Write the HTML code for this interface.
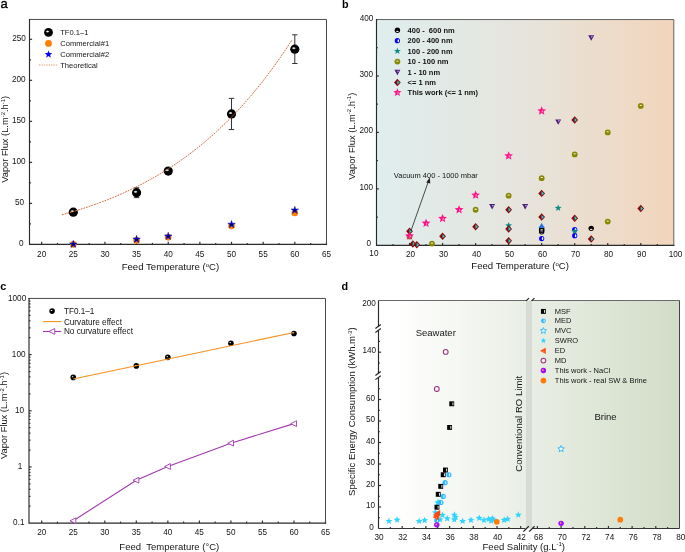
<!DOCTYPE html>
<html><head><meta charset="utf-8"><style>
html,body{margin:0;padding:0;background:#fff;}
body{width:685px;height:552px;position:relative;overflow:hidden;font-family:"Liberation Sans",sans-serif;}
</style></head><body>
<svg width="685" height="552" viewBox="0 0 685 552" style="position:absolute;left:0;top:0;will-change:transform">
<defs>
<radialGradient id="sph" cx="0.5" cy="0.5" r="0.5" fx="0.36" fy="0.36">
<stop offset="0" stop-color="#ffffff"/><stop offset="0.15" stop-color="#d8d8d8"/><stop offset="0.32" stop-color="#666"/><stop offset="0.52" stop-color="#0a0a0a"/><stop offset="1" stop-color="#000"/>
</radialGradient>
<radialGradient id="hl" cx="0.5" cy="0.5" r="0.5">
<stop offset="0" stop-color="#fff" stop-opacity="1"/><stop offset="0.45" stop-color="#ddd" stop-opacity="0.85"/><stop offset="1" stop-color="#888" stop-opacity="0"/>
</radialGradient>
<radialGradient id="sphp" cx="0.5" cy="0.5" r="0.5" fx="0.36" fy="0.38">
<stop offset="0" stop-color="#ff8c50"/><stop offset="0.22" stop-color="#f07090"/><stop offset="0.45" stop-color="#a818ff"/><stop offset="1" stop-color="#9400ee"/>
</radialGradient>
<linearGradient id="gb" x1="0" y1="0" x2="1" y2="0">
<stop offset="0" stop-color="#dfeeee"/><stop offset="0.5" stop-color="#e6e4dc"/><stop offset="1" stop-color="#f2d5bc"/>
</linearGradient>
<linearGradient id="gdl" x1="0" y1="0" x2="1" y2="0">
<stop offset="0" stop-color="#ffffff"/><stop offset="0.1" stop-color="#ffffff"/><stop offset="1" stop-color="#eaefe5"/>
</linearGradient>
<linearGradient id="gdr" x1="0" y1="0" x2="1" y2="0">
<stop offset="0" stop-color="#e9eee4"/><stop offset="1" stop-color="#d2ddc8"/>
</linearGradient>
</defs>
<g font-family='"Liberation Sans", sans-serif'>
<text x="0.4" y="7.9" font-size="13" text-anchor="start" font-weight="normal" fill="#000" stroke="#000" stroke-width="0.35">a</text>
<line x1="41.66" y1="244.4" x2="41.66" y2="241.8" stroke="#333" stroke-width="1.2" />
<text x="41.66" y="256.6" font-size="8.2" text-anchor="middle" font-weight="normal" fill="#141414" >20</text>
<line x1="73.3" y1="244.4" x2="73.3" y2="241.8" stroke="#333" stroke-width="1.2" />
<text x="73.3" y="256.6" font-size="8.2" text-anchor="middle" font-weight="normal" fill="#141414" >25</text>
<line x1="104.94" y1="244.4" x2="104.94" y2="241.8" stroke="#333" stroke-width="1.2" />
<text x="104.94" y="256.6" font-size="8.2" text-anchor="middle" font-weight="normal" fill="#141414" >30</text>
<line x1="136.59" y1="244.4" x2="136.59" y2="241.8" stroke="#333" stroke-width="1.2" />
<text x="136.59" y="256.6" font-size="8.2" text-anchor="middle" font-weight="normal" fill="#141414" >35</text>
<line x1="168.24" y1="244.4" x2="168.24" y2="241.8" stroke="#333" stroke-width="1.2" />
<text x="168.24" y="256.6" font-size="8.2" text-anchor="middle" font-weight="normal" fill="#141414" >40</text>
<line x1="199.88" y1="244.4" x2="199.88" y2="241.8" stroke="#333" stroke-width="1.2" />
<text x="199.88" y="256.6" font-size="8.2" text-anchor="middle" font-weight="normal" fill="#141414" >45</text>
<line x1="231.52" y1="244.4" x2="231.52" y2="241.8" stroke="#333" stroke-width="1.2" />
<text x="231.52" y="256.6" font-size="8.2" text-anchor="middle" font-weight="normal" fill="#141414" >50</text>
<line x1="263.17" y1="244.4" x2="263.17" y2="241.8" stroke="#333" stroke-width="1.2" />
<text x="263.17" y="256.6" font-size="8.2" text-anchor="middle" font-weight="normal" fill="#141414" >55</text>
<line x1="294.81" y1="244.4" x2="294.81" y2="241.8" stroke="#333" stroke-width="1.2" />
<text x="294.81" y="256.6" font-size="8.2" text-anchor="middle" font-weight="normal" fill="#141414" >60</text>
<line x1="326.46" y1="244.4" x2="326.46" y2="241.8" stroke="#333" stroke-width="1.2" />
<text x="326.46" y="256.6" font-size="8.2" text-anchor="middle" font-weight="normal" fill="#141414" >65</text>
<line x1="57.48" y1="244.4" x2="57.48" y2="242.9" stroke="#333" stroke-width="1.2" />
<line x1="89.12" y1="244.4" x2="89.12" y2="242.9" stroke="#333" stroke-width="1.2" />
<line x1="120.77" y1="244.4" x2="120.77" y2="242.9" stroke="#333" stroke-width="1.2" />
<line x1="152.41" y1="244.4" x2="152.41" y2="242.9" stroke="#333" stroke-width="1.2" />
<line x1="184.06" y1="244.4" x2="184.06" y2="242.9" stroke="#333" stroke-width="1.2" />
<line x1="215.7" y1="244.4" x2="215.7" y2="242.9" stroke="#333" stroke-width="1.2" />
<line x1="247.35" y1="244.4" x2="247.35" y2="242.9" stroke="#333" stroke-width="1.2" />
<line x1="278.99" y1="244.4" x2="278.99" y2="242.9" stroke="#333" stroke-width="1.2" />
<line x1="310.64" y1="244.4" x2="310.64" y2="242.9" stroke="#333" stroke-width="1.2" />
<line x1="29.5" y1="203.38" x2="32.1" y2="203.38" stroke="#333" stroke-width="1.2" />
<line x1="29.5" y1="162.36" x2="32.1" y2="162.36" stroke="#333" stroke-width="1.2" />
<line x1="29.5" y1="121.34" x2="32.1" y2="121.34" stroke="#333" stroke-width="1.2" />
<line x1="29.5" y1="80.32" x2="32.1" y2="80.32" stroke="#333" stroke-width="1.2" />
<line x1="29.5" y1="39.3" x2="32.1" y2="39.3" stroke="#333" stroke-width="1.2" />
<text x="23.5" y="246" font-size="8.2" text-anchor="end" font-weight="normal" fill="#141414" >0</text>
<text x="24.1" y="205" font-size="8.2" text-anchor="end" font-weight="normal" fill="#141414" >50</text>
<text x="25.6" y="164" font-size="8.2" text-anchor="end" font-weight="normal" fill="#141414" >100</text>
<text x="25.6" y="123" font-size="8.2" text-anchor="end" font-weight="normal" fill="#141414" >150</text>
<text x="25.6" y="82.1" font-size="8.2" text-anchor="end" font-weight="normal" fill="#141414" >200</text>
<text x="25.8" y="41.2" font-size="8.2" text-anchor="end" font-weight="normal" fill="#141414" >250</text>
<line x1="29.5" y1="223.89" x2="31" y2="223.89" stroke="#333" stroke-width="1.2" />
<line x1="29.5" y1="182.87" x2="31" y2="182.87" stroke="#333" stroke-width="1.2" />
<line x1="29.5" y1="141.85" x2="31" y2="141.85" stroke="#333" stroke-width="1.2" />
<line x1="29.5" y1="100.83" x2="31" y2="100.83" stroke="#333" stroke-width="1.2" />
<line x1="29.5" y1="59.81" x2="31" y2="59.81" stroke="#333" stroke-width="1.2" />
<path d="M29.5,19.45 H326.5 V244.4" fill="none" stroke="#4a4a4a" stroke-width="1.0" stroke-linecap="square"/>
<path d="M29.5,19.45 V244.4 H326.5" fill="none" stroke="#2a2a2a" stroke-width="1.15" stroke-linecap="square"/>
<text x="170.45" y="269.9" font-size="9.6" text-anchor="middle" font-weight="normal" fill="#141414" >Feed Temperature (<tspan font-size="6" dy="-3.3">o</tspan><tspan dy="3.3">C)</tspan></text>
<text x="0" y="0" font-size="9.3" text-anchor="middle" font-weight="normal" fill="#141414" transform="translate(8.2,139.3) rotate(-90)">Vapor Flux (L.m<tspan font-size="6" dy="-3.3">-2</tspan><tspan dy="3.3">.h</tspan><tspan font-size="6" dy="-3.3">-1</tspan><tspan dy="3.3">)</tspan></text>
<line x1="136.59" y1="197.64" x2="136.59" y2="187.79" stroke="#333" stroke-width="1" />
<line x1="133.89" y1="187.79" x2="139.29" y2="187.79" stroke="#333" stroke-width="1" />
<line x1="133.89" y1="197.64" x2="139.29" y2="197.64" stroke="#333" stroke-width="1" />
<line x1="231.52" y1="129.54" x2="231.52" y2="98.37" stroke="#333" stroke-width="1" />
<line x1="228.82" y1="98.37" x2="234.22" y2="98.37" stroke="#333" stroke-width="1" />
<line x1="228.82" y1="129.54" x2="234.22" y2="129.54" stroke="#333" stroke-width="1" />
<line x1="294.81" y1="63.5" x2="294.81" y2="34.79" stroke="#333" stroke-width="1" />
<line x1="292.12" y1="34.79" x2="297.51" y2="34.79" stroke="#333" stroke-width="1" />
<line x1="292.12" y1="63.5" x2="297.51" y2="63.5" stroke="#333" stroke-width="1" />
<circle cx="73.3" cy="212.16" r="4.6" fill="#000"/>
<ellipse cx="72.3" cy="211.26" rx="2.3" ry="1.5" fill="url(#hl)"/>
<circle cx="136.59" cy="192.71" r="4.6" fill="#000"/>
<ellipse cx="135.59" cy="191.81" rx="2.3" ry="1.5" fill="url(#hl)"/>
<circle cx="168.24" cy="171.06" r="4.6" fill="#000"/>
<ellipse cx="167.24" cy="170.16" rx="2.3" ry="1.5" fill="url(#hl)"/>
<circle cx="231.52" cy="113.96" r="4.6" fill="#000"/>
<ellipse cx="230.52" cy="113.06" rx="2.3" ry="1.5" fill="url(#hl)"/>
<circle cx="294.81" cy="49.14" r="4.6" fill="#000"/>
<ellipse cx="293.81" cy="48.24" rx="2.3" ry="1.5" fill="url(#hl)"/>
<polyline points="61.91,214.76 64.44,214.06 66.97,213.35 69.5,212.63 72.03,211.89 74.57,211.13 77.1,210.36 79.63,209.57 82.16,208.77 84.69,207.95 87.22,207.11 89.76,206.25 92.29,205.37 94.82,204.48 97.35,203.57 99.88,202.64 102.41,201.68 104.94,200.71 107.48,199.72 110.01,198.71 112.54,197.68 115.07,196.62 117.6,195.55 120.13,194.45 122.67,193.33 125.2,192.19 127.73,191.02 130.26,189.83 132.79,188.62 135.32,187.38 137.86,186.11 140.39,184.83 142.92,183.51 145.45,182.17 147.98,180.8 150.51,179.4 153.05,177.98 155.58,176.53 158.11,175.05 160.64,173.54 163.17,172 165.7,170.42 168.23,168.82 170.77,167.19 173.3,165.53 175.83,163.83 178.36,162.1 180.89,160.33 183.42,158.54 185.96,156.7 188.49,154.83 191.02,152.93 193.55,150.99 196.08,149.01 198.61,147 201.15,144.94 203.68,142.85 206.21,140.72 208.74,138.54 211.27,136.33 213.8,134.07 216.34,131.78 218.87,129.43 221.4,127.05 223.93,124.62 226.46,122.15 228.99,119.63 231.52,117.06 234.06,114.45 236.59,111.78 239.12,109.07 241.65,106.31 244.18,103.5 246.71,100.64 249.25,97.73 251.78,94.76 254.31,91.74 256.84,88.67 259.37,85.54 261.9,82.35 264.44,79.11 266.97,75.81 269.5,72.45 272.03,69.03 274.56,65.55 277.09,62.01 279.63,58.41 282.16,54.74 284.69,51.01 287.22,47.22 289.75,43.36 292.28,39.43" fill="none" stroke="#cc6e3e" stroke-width="1.0" stroke-dasharray="1.9 0.9"/>
<circle cx="73.3" cy="244.4" r="3.3" fill="#ff8000" stroke="none" stroke-width="0"/>
<circle cx="136.59" cy="240.38" r="3.3" fill="#ff8000" stroke="none" stroke-width="0"/>
<circle cx="168.24" cy="237.34" r="3.3" fill="#ff8000" stroke="none" stroke-width="0"/>
<circle cx="231.52" cy="226.02" r="3.3" fill="#ff8000" stroke="none" stroke-width="0"/>
<circle cx="294.81" cy="213.06" r="3.3" fill="#ff8000" stroke="none" stroke-width="0"/>
<polygon points="73.3,240.24 74.24,242.94 77.1,243 74.82,244.73 75.65,247.47 73.3,245.84 70.95,247.47 71.78,244.73 69.5,243 72.36,242.94" fill="#0808ff" stroke="#000070" stroke-width="0.4" stroke-linejoin="round"/>
<polygon points="73.3,242.84 73.82,243.72 74.82,243.94 74.14,244.71 74.24,245.73 73.3,245.32 72.36,245.73 72.46,244.71 71.78,243.94 72.78,243.72" fill="#000030" stroke="none" stroke-width="0" stroke-linejoin="round"/>
<polygon points="136.59,235.31 137.53,238.02 140.39,238.08 138.11,239.81 138.94,242.55 136.59,240.91 134.24,242.55 135.07,239.81 132.79,238.08 135.65,238.02" fill="#0808ff" stroke="#000070" stroke-width="0.4" stroke-linejoin="round"/>
<polygon points="136.59,237.91 137.11,238.8 138.11,239.02 137.43,239.79 137.53,240.81 136.59,240.39 135.65,240.81 135.75,239.79 135.07,239.02 136.07,238.8" fill="#000030" stroke="none" stroke-width="0" stroke-linejoin="round"/>
<polygon points="168.24,232.2 169.18,234.9 172.04,234.96 169.76,236.69 170.59,239.43 168.24,237.8 165.88,239.43 166.71,236.69 164.43,234.96 167.29,234.9" fill="#0808ff" stroke="#000070" stroke-width="0.4" stroke-linejoin="round"/>
<polygon points="168.24,234.8 168.75,235.68 169.76,235.9 169.07,236.67 169.18,237.69 168.24,237.28 167.29,237.69 167.4,236.67 166.71,235.9 167.72,235.68" fill="#000030" stroke="none" stroke-width="0" stroke-linejoin="round"/>
<polygon points="231.52,220.46 232.47,223.17 235.33,223.23 233.05,224.96 233.88,227.7 231.52,226.06 229.17,227.7 230,224.96 227.72,223.23 230.58,223.17" fill="#0808ff" stroke="#000070" stroke-width="0.4" stroke-linejoin="round"/>
<polygon points="231.52,223.06 232.04,223.95 233.05,224.17 232.36,224.94 232.47,225.96 231.52,225.54 230.58,225.96 230.69,224.94 230,224.17 231.01,223.95" fill="#000030" stroke="none" stroke-width="0" stroke-linejoin="round"/>
<polygon points="294.81,206.19 295.76,208.89 298.62,208.95 296.34,210.68 297.17,213.43 294.81,211.79 292.46,213.43 293.29,210.68 291.01,208.95 293.87,208.89" fill="#0808ff" stroke="#000070" stroke-width="0.4" stroke-linejoin="round"/>
<polygon points="294.81,208.79 295.33,209.68 296.34,209.89 295.65,210.66 295.76,211.68 294.81,211.27 293.87,211.68 293.98,210.66 293.29,209.89 294.3,209.68" fill="#000030" stroke="none" stroke-width="0" stroke-linejoin="round"/>
<circle cx="48.5" cy="32.4" r="4.4" fill="#000"/>
<ellipse cx="47.54" cy="31.54" rx="2.2" ry="1.43" fill="url(#hl)"/>
<circle cx="48.5" cy="43.4" r="3.4" fill="#ff8000" stroke="none" stroke-width="0"/>
<polygon points="48.5,50.4 49.49,53.04 52.3,53.16 50.1,54.92 50.85,57.64 48.5,56.08 46.15,57.64 46.9,54.92 44.7,53.16 47.51,53.04" fill="#0000ff" stroke="none" stroke-width="0" stroke-linejoin="round"/>
<line x1="39" y1="65" x2="57.4" y2="65" stroke="#e0906a" stroke-width="0.9" stroke-dasharray="1.4 1"/>
<text x="60.2" y="35.2" font-size="7.6" text-anchor="start" font-weight="normal" fill="#141414" >TF0.1&#8211;1</text>
<text x="60.2" y="46.2" font-size="7.6" text-anchor="start" font-weight="normal" fill="#141414" >Commercial#1</text>
<text x="60.2" y="57.2" font-size="7.6" text-anchor="start" font-weight="normal" fill="#141414" >Commercial#2</text>
<text x="60.2" y="68.2" font-size="7.6" text-anchor="start" font-weight="normal" fill="#141414" >Theoretical</text>
<text x="341.9" y="7.9" font-size="10.8" text-anchor="start" font-weight="bold" fill="#000" >b</text>
<rect x="376.5" y="19.55" width="297.3" height="225.75" fill="url(#gb)"/>
<text x="373.9" y="256.4" font-size="8.2" text-anchor="middle" font-weight="normal" fill="#141414" >10</text>
<line x1="409.53" y1="245.3" x2="409.53" y2="242.9" stroke="#333" stroke-width="1.2" />
<text x="410.43" y="256.9" font-size="8.2" text-anchor="middle" font-weight="normal" fill="#141414" >20</text>
<line x1="442.57" y1="245.3" x2="442.57" y2="242.9" stroke="#333" stroke-width="1.2" />
<text x="443.47" y="256.9" font-size="8.2" text-anchor="middle" font-weight="normal" fill="#141414" >30</text>
<line x1="475.6" y1="245.3" x2="475.6" y2="242.9" stroke="#333" stroke-width="1.2" />
<text x="476.5" y="256.9" font-size="8.2" text-anchor="middle" font-weight="normal" fill="#141414" >40</text>
<line x1="508.63" y1="245.3" x2="508.63" y2="242.9" stroke="#333" stroke-width="1.2" />
<text x="509.53" y="256.9" font-size="8.2" text-anchor="middle" font-weight="normal" fill="#141414" >50</text>
<line x1="541.66" y1="245.3" x2="541.66" y2="242.9" stroke="#333" stroke-width="1.2" />
<text x="542.56" y="256.9" font-size="8.2" text-anchor="middle" font-weight="normal" fill="#141414" >60</text>
<line x1="574.7" y1="245.3" x2="574.7" y2="242.9" stroke="#333" stroke-width="1.2" />
<text x="575.6" y="256.9" font-size="8.2" text-anchor="middle" font-weight="normal" fill="#141414" >70</text>
<line x1="607.73" y1="245.3" x2="607.73" y2="242.9" stroke="#333" stroke-width="1.2" />
<text x="608.63" y="256.9" font-size="8.2" text-anchor="middle" font-weight="normal" fill="#141414" >80</text>
<line x1="640.76" y1="245.3" x2="640.76" y2="242.9" stroke="#333" stroke-width="1.2" />
<text x="641.66" y="256.9" font-size="8.2" text-anchor="middle" font-weight="normal" fill="#141414" >90</text>
<text x="675.5" y="256.9" font-size="8.2" text-anchor="middle" font-weight="normal" fill="#141414" >100</text>
<line x1="393.02" y1="245.3" x2="393.02" y2="243.9" stroke="#333" stroke-width="1.2" />
<line x1="426.05" y1="245.3" x2="426.05" y2="243.9" stroke="#333" stroke-width="1.2" />
<line x1="459.08" y1="245.3" x2="459.08" y2="243.9" stroke="#333" stroke-width="1.2" />
<line x1="492.12" y1="245.3" x2="492.12" y2="243.9" stroke="#333" stroke-width="1.2" />
<line x1="525.15" y1="245.3" x2="525.15" y2="243.9" stroke="#333" stroke-width="1.2" />
<line x1="558.18" y1="245.3" x2="558.18" y2="243.9" stroke="#333" stroke-width="1.2" />
<line x1="591.21" y1="245.3" x2="591.21" y2="243.9" stroke="#333" stroke-width="1.2" />
<line x1="624.25" y1="245.3" x2="624.25" y2="243.9" stroke="#333" stroke-width="1.2" />
<line x1="657.28" y1="245.3" x2="657.28" y2="243.9" stroke="#333" stroke-width="1.2" />
<line x1="376.5" y1="188.86" x2="378.9" y2="188.86" stroke="#333" stroke-width="1.2" />
<line x1="376.5" y1="132.42" x2="378.9" y2="132.42" stroke="#333" stroke-width="1.2" />
<line x1="376.5" y1="75.98" x2="378.9" y2="75.98" stroke="#333" stroke-width="1.2" />
<text x="371" y="246.1" font-size="8.2" text-anchor="end" font-weight="normal" fill="#141414" >0</text>
<text x="373.2" y="190" font-size="8.2" text-anchor="end" font-weight="normal" fill="#141414" >100</text>
<text x="373.2" y="133.4" font-size="8.2" text-anchor="end" font-weight="normal" fill="#141414" >200</text>
<text x="373.2" y="77" font-size="8.2" text-anchor="end" font-weight="normal" fill="#141414" >300</text>
<text x="373.3" y="20.8" font-size="8.2" text-anchor="end" font-weight="normal" fill="#141414" >400</text>
<line x1="376.5" y1="217.08" x2="377.9" y2="217.08" stroke="#333" stroke-width="1.2" />
<line x1="376.5" y1="160.64" x2="377.9" y2="160.64" stroke="#333" stroke-width="1.2" />
<line x1="376.5" y1="104.2" x2="377.9" y2="104.2" stroke="#333" stroke-width="1.2" />
<line x1="376.5" y1="47.76" x2="377.9" y2="47.76" stroke="#333" stroke-width="1.2" />
<path d="M376.5,19.55 H673.8 V245.3" fill="none" stroke="#5a5a5a" stroke-width="0.95" stroke-linecap="square"/>
<path d="M376.5,19.55 V245.3 H673.8" fill="none" stroke="#2a2a2a" stroke-width="1.15" stroke-linecap="square"/>
<text x="520.1" y="268.9" font-size="9.6" text-anchor="middle" font-weight="normal" fill="#141414" >Feed Temperature (<tspan font-size="6" dy="-3.3">o</tspan><tspan dy="3.3">C)</tspan></text>
<text x="0" y="0" font-size="9.3" text-anchor="middle" font-weight="normal" fill="#141414" transform="translate(354.6,136.2) rotate(-90)">Vapor Flux (L.m<tspan font-size="6" dy="-3.3">-2</tspan><tspan dy="3.3">.h</tspan><tspan font-size="6" dy="-3.3">-1</tspan><tspan dy="3.3">)</tspan></text>
<circle cx="541.66" cy="238.53" r="2.6" fill="#0000ff" stroke="none" stroke-width="0"/>
<ellipse cx="542.57" cy="238.53" rx="0.78" ry="1.56" fill="#fff"/>
<circle cx="574.7" cy="235.71" r="2.6" fill="#0000ff" stroke="none" stroke-width="0"/>
<ellipse cx="575.61" cy="235.71" rx="0.78" ry="1.56" fill="#fff"/>
<circle cx="574.7" cy="229.5" r="2.6" fill="#0000ff" stroke="none" stroke-width="0"/>
<ellipse cx="575.61" cy="229.5" rx="0.78" ry="1.56" fill="#fff"/>
<circle cx="591.21" cy="228.37" r="2.7" fill="#000" stroke="none" stroke-width="0"/>
<ellipse cx="591.21" cy="229.37" rx="1.35" ry="0.65" fill="#fff"/>
<circle cx="541.66" cy="231.75" r="2.7" fill="#000" stroke="none" stroke-width="0"/>
<ellipse cx="541.66" cy="232.75" rx="1.35" ry="0.65" fill="#fff"/>
<circle cx="541.66" cy="230.34" r="2.7" fill="#000" stroke="none" stroke-width="0"/>
<ellipse cx="541.66" cy="231.34" rx="1.35" ry="0.65" fill="#fff"/>
<circle cx="541.66" cy="228.93" r="2.7" fill="#000" stroke="none" stroke-width="0"/>
<ellipse cx="541.66" cy="229.93" rx="1.35" ry="0.65" fill="#fff"/>
<polygon points="558.18,204.45 559.07,206.83 561.61,206.94 559.62,208.52 560.3,210.96 558.18,209.56 556.07,210.96 556.74,208.52 554.76,206.94 557.29,206.83" fill="#0a8a8a" stroke="none" stroke-width="0" stroke-linejoin="round"/>
<polygon points="508.63,221.95 509.52,224.32 512.06,224.43 510.07,226.01 510.75,228.46 508.63,227.06 506.52,228.46 507.19,226.01 505.21,224.43 507.74,224.32" fill="#0a8a8a" stroke="none" stroke-width="0" stroke-linejoin="round"/>
<polygon points="574.7,227.59 575.59,229.97 578.12,230.08 576.14,231.66 576.81,234.1 574.7,232.7 572.58,234.1 573.26,231.66 571.27,230.08 573.81,229.97" fill="#0a8a8a" stroke="none" stroke-width="0" stroke-linejoin="round"/>
<polygon points="538.46,227.9 544.87,227.9 541.66,223.1" fill="#2277dd"/>
<circle cx="409.53" cy="236.55" r="2.9" fill="#888800" stroke="none" stroke-width="0"/>
<path d="M408.28,236.45 A1.25,1.05 0 0 1 410.78,236.45 Z" fill="#fff"/>
<circle cx="432" cy="243.61" r="2.9" fill="#888800" stroke="none" stroke-width="0"/>
<path d="M430.75,243.51 A1.25,1.05 0 0 1 433.25,243.51 Z" fill="#fff"/>
<circle cx="475.6" cy="209.74" r="2.9" fill="#888800" stroke="none" stroke-width="0"/>
<path d="M474.35,209.64 A1.25,1.05 0 0 1 476.85,209.64 Z" fill="#fff"/>
<circle cx="508.63" cy="195.63" r="2.9" fill="#888800" stroke="none" stroke-width="0"/>
<path d="M507.38,195.53 A1.25,1.05 0 0 1 509.88,195.53 Z" fill="#fff"/>
<circle cx="541.66" cy="178.14" r="2.9" fill="#888800" stroke="none" stroke-width="0"/>
<path d="M540.41,178.04 A1.25,1.05 0 0 1 542.91,178.04 Z" fill="#fff"/>
<circle cx="574.7" cy="154.43" r="2.9" fill="#888800" stroke="none" stroke-width="0"/>
<path d="M573.45,154.33 A1.25,1.05 0 0 1 575.95,154.33 Z" fill="#fff"/>
<circle cx="607.73" cy="132.42" r="2.9" fill="#888800" stroke="none" stroke-width="0"/>
<path d="M606.48,132.32 A1.25,1.05 0 0 1 608.98,132.32 Z" fill="#fff"/>
<circle cx="640.76" cy="105.89" r="2.9" fill="#888800" stroke="none" stroke-width="0"/>
<path d="M639.51,105.79 A1.25,1.05 0 0 1 642.01,105.79 Z" fill="#fff"/>
<circle cx="607.73" cy="221.6" r="2.9" fill="#888800" stroke="none" stroke-width="0"/>
<path d="M606.48,221.5 A1.25,1.05 0 0 1 608.98,221.5 Z" fill="#fff"/>
<polygon points="489.12,204.11 495.12,204.11 492.12,209.51" fill="#4d1a7f"/>
<polygon points="492.22,205.01 493.77,205.01 492.42,206.81" fill="#fff" opacity="0.85"/>
<polygon points="522.15,204.11 528.15,204.11 525.15,209.51" fill="#4d1a7f"/>
<polygon points="525.25,205.01 526.8,205.01 525.45,206.81" fill="#fff" opacity="0.85"/>
<polygon points="555.18,119.45 561.18,119.45 558.18,124.85" fill="#4d1a7f"/>
<polygon points="558.28,120.35 559.83,120.35 558.48,122.15" fill="#fff" opacity="0.85"/>
<polygon points="588.21,35.35 594.21,35.35 591.21,40.75" fill="#4d1a7f"/>
<polygon points="591.31,36.25 592.86,36.25 591.51,38.05" fill="#fff" opacity="0.85"/>
<polygon points="409.53,227.45 412.93,231.19 409.53,234.93 406.13,231.19" fill="#8b0808"/>
<polygon points="409.43,229.09 411.83,231.19 409.43,233.29" fill="#22d0dc"/>
<polygon points="412.84,240.15 416.24,243.89 412.84,247.63 409.44,243.89" fill="#8b0808"/>
<polygon points="412.74,241.79 415.14,243.89 412.74,245.99" fill="#22d0dc"/>
<polygon points="416.8,241.11 420.2,244.85 416.8,248.59 413.4,244.85" fill="#8b0808"/>
<polygon points="416.7,242.75 419.1,244.85 416.7,246.95" fill="#22d0dc"/>
<polygon points="442.57,232.53 445.97,236.27 442.57,240.01 439.17,236.27" fill="#8b0808"/>
<polygon points="442.47,234.17 444.87,236.27 442.47,238.37" fill="#22d0dc"/>
<polygon points="475.6,222.93 479,226.67 475.6,230.41 472.2,226.67" fill="#8b0808"/>
<polygon points="475.5,224.57 477.9,226.67 475.5,228.77" fill="#22d0dc"/>
<polygon points="508.63,206 512.03,209.74 508.63,213.48 505.23,209.74" fill="#8b0808"/>
<polygon points="508.53,207.64 510.93,209.74 508.53,211.84" fill="#22d0dc"/>
<polygon points="508.63,225.19 512.03,228.93 508.63,232.67 505.23,228.93" fill="#8b0808"/>
<polygon points="508.53,226.83 510.93,228.93 508.53,231.03" fill="#22d0dc"/>
<polygon points="508.63,237.04 512.03,240.78 508.63,244.52 505.23,240.78" fill="#8b0808"/>
<polygon points="508.53,238.68 510.93,240.78 508.53,242.88" fill="#22d0dc"/>
<polygon points="541.66,189.64 545.06,193.38 541.66,197.12 538.26,193.38" fill="#8b0808"/>
<polygon points="541.56,191.28 543.96,193.38 541.56,195.48" fill="#22d0dc"/>
<polygon points="541.66,213.34 545.06,217.08 541.66,220.82 538.26,217.08" fill="#8b0808"/>
<polygon points="541.56,214.98 543.96,217.08 541.56,219.18" fill="#22d0dc"/>
<polygon points="574.7,214.47 578.1,218.21 574.7,221.95 571.3,218.21" fill="#8b0808"/>
<polygon points="574.6,216.11 577,218.21 574.6,220.31" fill="#22d0dc"/>
<polygon points="574.7,116.26 578.1,120 574.7,123.74 571.3,120" fill="#8b0808"/>
<polygon points="574.6,117.9 577,120 574.6,122.1" fill="#22d0dc"/>
<polygon points="591.21,235.35 594.61,239.09 591.21,242.83 587.81,239.09" fill="#8b0808"/>
<polygon points="591.11,236.99 593.51,239.09 591.11,241.19" fill="#22d0dc"/>
<polygon points="640.76,204.87 644.16,208.61 640.76,212.35 637.36,208.61" fill="#8b0808"/>
<polygon points="640.66,206.51 643.06,208.61 640.66,210.71" fill="#22d0dc"/>
<polygon points="409.53,231.39 410.75,234.31 413.91,234.57 411.5,236.63 412.24,239.71 409.53,238.06 406.83,239.71 407.56,236.63 405.16,234.57 408.32,234.31" fill="#ff1288" stroke="none" stroke-width="0" stroke-linejoin="round"/>
<ellipse cx="410.13" cy="236.39" rx="0.6" ry="1.2" fill="#ffb0d8" opacity="0.8"/>
<polygon points="426.05,218.69 427.27,221.61 430.42,221.87 428.02,223.93 428.75,227.01 426.05,225.36 423.35,227.01 424.08,223.93 421.67,221.87 424.83,221.61" fill="#ff1288" stroke="none" stroke-width="0" stroke-linejoin="round"/>
<ellipse cx="426.65" cy="223.69" rx="0.6" ry="1.2" fill="#ffb0d8" opacity="0.8"/>
<polygon points="442.57,213.89 443.78,216.82 446.94,217.07 444.53,219.13 445.27,222.21 442.57,220.56 439.86,222.21 440.6,219.13 438.19,217.07 441.35,216.82" fill="#ff1288" stroke="none" stroke-width="0" stroke-linejoin="round"/>
<ellipse cx="443.17" cy="218.89" rx="0.6" ry="1.2" fill="#ffb0d8" opacity="0.8"/>
<polygon points="459.08,205.14 460.3,208.07 463.46,208.32 461.05,210.38 461.79,213.46 459.08,211.81 456.38,213.46 457.11,210.38 454.71,208.32 457.87,208.07" fill="#ff1288" stroke="none" stroke-width="0" stroke-linejoin="round"/>
<ellipse cx="459.68" cy="210.14" rx="0.6" ry="1.2" fill="#ffb0d8" opacity="0.8"/>
<polygon points="475.6,190.47 476.82,193.39 479.97,193.65 477.57,195.71 478.3,198.79 475.6,197.14 472.9,198.79 473.63,195.71 471.22,193.65 474.38,193.39" fill="#ff1288" stroke="none" stroke-width="0" stroke-linejoin="round"/>
<ellipse cx="476.2" cy="195.47" rx="0.6" ry="1.2" fill="#ffb0d8" opacity="0.8"/>
<polygon points="508.63,151.24 509.85,154.17 513.01,154.42 510.6,156.48 511.34,159.56 508.63,157.91 505.93,159.56 506.66,156.48 504.26,154.42 507.42,154.17" fill="#ff1288" stroke="none" stroke-width="0" stroke-linejoin="round"/>
<ellipse cx="509.23" cy="156.24" rx="0.6" ry="1.2" fill="#ffb0d8" opacity="0.8"/>
<polygon points="541.66,106.37 542.88,109.3 546.04,109.55 543.63,111.61 544.37,114.69 541.66,113.04 538.96,114.69 539.7,111.61 537.29,109.55 540.45,109.3" fill="#ff1288" stroke="none" stroke-width="0" stroke-linejoin="round"/>
<ellipse cx="542.26" cy="111.37" rx="0.6" ry="1.2" fill="#ffb0d8" opacity="0.8"/>
<line x1="410.9" y1="231" x2="428.2" y2="182" stroke="#222" stroke-width="0.8"/>
<polygon points="429.8,177.6 426.2,182.6 430.3,183.6" fill="#222"/>
<text x="393.8" y="177.7" font-size="7.5" text-anchor="start" font-weight="normal" fill="#141414" >Vacuum 400 - 1000 mbar</text>
<circle cx="397.4" cy="30.3" r="2.7" fill="#000" stroke="none" stroke-width="0"/>
<ellipse cx="397.4" cy="31.3" rx="1.35" ry="0.65" fill="#fff"/>
<circle cx="397.4" cy="40.7" r="2.6" fill="#0000ff" stroke="none" stroke-width="0"/>
<ellipse cx="398.31" cy="40.7" rx="0.78" ry="1.56" fill="#fff"/>
<polygon points="397.4,47.5 398.29,49.88 400.82,49.99 398.84,51.57 399.52,54.01 397.4,52.61 395.28,54.01 395.96,51.57 393.98,49.99 396.51,49.88" fill="#0a8a8a" stroke="none" stroke-width="0" stroke-linejoin="round"/>
<circle cx="397.4" cy="61.6" r="2.9" fill="#888800" stroke="none" stroke-width="0"/>
<path d="M396.15,61.5 A1.25,1.05 0 0 1 398.65,61.5 Z" fill="#fff"/>
<polygon points="394.4,69.75 400.4,69.75 397.4,75.15" fill="#4d1a7f"/>
<polygon points="397.5,70.65 399.05,70.65 397.7,72.45" fill="#fff" opacity="0.85"/>
<polygon points="397.4,78.76 400.8,82.5 397.4,86.24 394,82.5" fill="#8b0808"/>
<polygon points="397.3,80.4 399.7,82.5 397.3,84.6" fill="#22d0dc"/>
<polygon points="397.4,88.3 398.54,91.03 401.49,91.27 399.24,93.2 399.93,96.08 397.4,94.53 394.87,96.08 395.56,93.2 393.31,91.27 396.26,91.03" fill="#ff1288" stroke="none" stroke-width="0" stroke-linejoin="round"/>
<ellipse cx="398" cy="93" rx="0.6" ry="1.2" fill="#ffb0d8" opacity="0.8"/>
<text x="407.6" y="33" font-size="7.5" text-anchor="start" font-weight="bold" fill="#111" xml:space="preserve">400 -  600 nm</text>
<text x="407.6" y="43.4" font-size="7.5" text-anchor="start" font-weight="bold" fill="#111" xml:space="preserve">200 - 400 nm</text>
<text x="407.6" y="53.8" font-size="7.5" text-anchor="start" font-weight="bold" fill="#111" xml:space="preserve">100 - 200 nm</text>
<text x="407.6" y="64.3" font-size="7.5" text-anchor="start" font-weight="bold" fill="#111" xml:space="preserve">10 - 100 nm</text>
<text x="407.6" y="74.7" font-size="7.5" text-anchor="start" font-weight="bold" fill="#111" xml:space="preserve">1 - 10 nm</text>
<text x="407.6" y="85.2" font-size="7.5" text-anchor="start" font-weight="bold" fill="#111" xml:space="preserve">&lt;= 1 nm</text>
<text x="407.6" y="95.3" font-size="7.5" text-anchor="start" font-weight="bold" fill="#111" xml:space="preserve">This work (&lt;= 1 nm)</text>
<text x="0.2" y="290" font-size="10.8" text-anchor="start" font-weight="bold" fill="#000" >c</text>
<line x1="41.7" y1="523.1" x2="41.7" y2="520.5" stroke="#333" stroke-width="1.2" />
<text x="41.7" y="535.2" font-size="8.2" text-anchor="middle" font-weight="normal" fill="#141414" >20</text>
<line x1="73.24" y1="523.1" x2="73.24" y2="520.5" stroke="#333" stroke-width="1.2" />
<text x="73.24" y="535.2" font-size="8.2" text-anchor="middle" font-weight="normal" fill="#141414" >25</text>
<line x1="104.77" y1="523.1" x2="104.77" y2="520.5" stroke="#333" stroke-width="1.2" />
<text x="104.77" y="535.2" font-size="8.2" text-anchor="middle" font-weight="normal" fill="#141414" >30</text>
<line x1="136.31" y1="523.1" x2="136.31" y2="520.5" stroke="#333" stroke-width="1.2" />
<text x="136.31" y="535.2" font-size="8.2" text-anchor="middle" font-weight="normal" fill="#141414" >35</text>
<line x1="167.84" y1="523.1" x2="167.84" y2="520.5" stroke="#333" stroke-width="1.2" />
<text x="167.84" y="535.2" font-size="8.2" text-anchor="middle" font-weight="normal" fill="#141414" >40</text>
<line x1="199.38" y1="523.1" x2="199.38" y2="520.5" stroke="#333" stroke-width="1.2" />
<text x="199.38" y="535.2" font-size="8.2" text-anchor="middle" font-weight="normal" fill="#141414" >45</text>
<line x1="230.91" y1="523.1" x2="230.91" y2="520.5" stroke="#333" stroke-width="1.2" />
<text x="230.91" y="535.2" font-size="8.2" text-anchor="middle" font-weight="normal" fill="#141414" >50</text>
<line x1="262.44" y1="523.1" x2="262.44" y2="520.5" stroke="#333" stroke-width="1.2" />
<text x="262.44" y="535.2" font-size="8.2" text-anchor="middle" font-weight="normal" fill="#141414" >55</text>
<line x1="293.98" y1="523.1" x2="293.98" y2="520.5" stroke="#333" stroke-width="1.2" />
<text x="293.98" y="535.2" font-size="8.2" text-anchor="middle" font-weight="normal" fill="#141414" >60</text>
<line x1="325.51" y1="523.1" x2="325.51" y2="520.5" stroke="#333" stroke-width="1.2" />
<text x="325.51" y="535.2" font-size="8.2" text-anchor="middle" font-weight="normal" fill="#141414" >65</text>
<line x1="57.47" y1="523.1" x2="57.47" y2="521.6" stroke="#333" stroke-width="1.2" />
<line x1="89" y1="523.1" x2="89" y2="521.6" stroke="#333" stroke-width="1.2" />
<line x1="120.54" y1="523.1" x2="120.54" y2="521.6" stroke="#333" stroke-width="1.2" />
<line x1="152.07" y1="523.1" x2="152.07" y2="521.6" stroke="#333" stroke-width="1.2" />
<line x1="183.61" y1="523.1" x2="183.61" y2="521.6" stroke="#333" stroke-width="1.2" />
<line x1="215.14" y1="523.1" x2="215.14" y2="521.6" stroke="#333" stroke-width="1.2" />
<line x1="246.68" y1="523.1" x2="246.68" y2="521.6" stroke="#333" stroke-width="1.2" />
<line x1="278.21" y1="523.1" x2="278.21" y2="521.6" stroke="#333" stroke-width="1.2" />
<line x1="309.75" y1="523.1" x2="309.75" y2="521.6" stroke="#333" stroke-width="1.2" />
<line x1="29" y1="466.94" x2="31.6" y2="466.94" stroke="#333" stroke-width="1.2" />
<line x1="29" y1="410.78" x2="31.6" y2="410.78" stroke="#333" stroke-width="1.2" />
<line x1="29" y1="354.62" x2="31.6" y2="354.62" stroke="#333" stroke-width="1.2" />
<text x="24.5" y="525" font-size="8.2" text-anchor="end" font-weight="normal" fill="#141414" >0.1</text>
<text x="22.2" y="469" font-size="8.2" text-anchor="end" font-weight="normal" fill="#141414" >1</text>
<text x="24.05" y="413.05" font-size="8.2" text-anchor="end" font-weight="normal" fill="#141414" >10</text>
<text x="25.5" y="357.1" font-size="8.2" text-anchor="end" font-weight="normal" fill="#141414" >100</text>
<text x="26.2" y="300.55" font-size="8.2" text-anchor="end" font-weight="normal" fill="#141414" >1000</text>
<line x1="29" y1="506.19" x2="30.5" y2="506.19" stroke="#333" stroke-width="1.2" />
<line x1="29" y1="496.3" x2="30.5" y2="496.3" stroke="#333" stroke-width="1.2" />
<line x1="29" y1="489.29" x2="30.5" y2="489.29" stroke="#333" stroke-width="1.2" />
<line x1="29" y1="483.85" x2="30.5" y2="483.85" stroke="#333" stroke-width="1.2" />
<line x1="29" y1="479.4" x2="30.5" y2="479.4" stroke="#333" stroke-width="1.2" />
<line x1="29" y1="475.64" x2="30.5" y2="475.64" stroke="#333" stroke-width="1.2" />
<line x1="29" y1="472.38" x2="30.5" y2="472.38" stroke="#333" stroke-width="1.2" />
<line x1="29" y1="469.51" x2="30.5" y2="469.51" stroke="#333" stroke-width="1.2" />
<line x1="29" y1="450.03" x2="30.5" y2="450.03" stroke="#333" stroke-width="1.2" />
<line x1="29" y1="440.14" x2="30.5" y2="440.14" stroke="#333" stroke-width="1.2" />
<line x1="29" y1="433.13" x2="30.5" y2="433.13" stroke="#333" stroke-width="1.2" />
<line x1="29" y1="427.69" x2="30.5" y2="427.69" stroke="#333" stroke-width="1.2" />
<line x1="29" y1="423.24" x2="30.5" y2="423.24" stroke="#333" stroke-width="1.2" />
<line x1="29" y1="419.48" x2="30.5" y2="419.48" stroke="#333" stroke-width="1.2" />
<line x1="29" y1="416.22" x2="30.5" y2="416.22" stroke="#333" stroke-width="1.2" />
<line x1="29" y1="413.35" x2="30.5" y2="413.35" stroke="#333" stroke-width="1.2" />
<line x1="29" y1="393.87" x2="30.5" y2="393.87" stroke="#333" stroke-width="1.2" />
<line x1="29" y1="383.98" x2="30.5" y2="383.98" stroke="#333" stroke-width="1.2" />
<line x1="29" y1="376.97" x2="30.5" y2="376.97" stroke="#333" stroke-width="1.2" />
<line x1="29" y1="371.53" x2="30.5" y2="371.53" stroke="#333" stroke-width="1.2" />
<line x1="29" y1="367.08" x2="30.5" y2="367.08" stroke="#333" stroke-width="1.2" />
<line x1="29" y1="363.32" x2="30.5" y2="363.32" stroke="#333" stroke-width="1.2" />
<line x1="29" y1="360.06" x2="30.5" y2="360.06" stroke="#333" stroke-width="1.2" />
<line x1="29" y1="357.19" x2="30.5" y2="357.19" stroke="#333" stroke-width="1.2" />
<line x1="29" y1="337.71" x2="30.5" y2="337.71" stroke="#333" stroke-width="1.2" />
<line x1="29" y1="327.82" x2="30.5" y2="327.82" stroke="#333" stroke-width="1.2" />
<line x1="29" y1="320.81" x2="30.5" y2="320.81" stroke="#333" stroke-width="1.2" />
<line x1="29" y1="315.37" x2="30.5" y2="315.37" stroke="#333" stroke-width="1.2" />
<line x1="29" y1="310.92" x2="30.5" y2="310.92" stroke="#333" stroke-width="1.2" />
<line x1="29" y1="307.16" x2="30.5" y2="307.16" stroke="#333" stroke-width="1.2" />
<line x1="29" y1="303.9" x2="30.5" y2="303.9" stroke="#333" stroke-width="1.2" />
<line x1="29" y1="301.03" x2="30.5" y2="301.03" stroke="#333" stroke-width="1.2" />
<path d="M29,298.45 H325.5 V523.1" fill="none" stroke="#4a4a4a" stroke-width="1.0" stroke-linecap="square"/>
<path d="M29,298.45 V523.1 H325.5" fill="none" stroke="#2a2a2a" stroke-width="1.15" stroke-linecap="square"/>
<text x="169.3" y="549.6" font-size="9.5" text-anchor="middle" font-weight="normal" fill="#141414" >Feed&#160;&#160;Temperature (&#176;C)</text>
<text x="0" y="0" font-size="9.3" text-anchor="middle" font-weight="normal" fill="#141414" transform="translate(7.3,415.5) rotate(-90)">Vapor Flux (L.m<tspan font-size="6" dy="-3.3">-2</tspan><tspan dy="3.3">.h</tspan><tspan font-size="6" dy="-3.3">-1</tspan><tspan dy="3.3">)</tspan></text>
<polyline points="73.24,520.78 136.31,480.23 167.84,466.46 230.91,443.17 293.98,423.65" fill="none" stroke="#a238ae" stroke-width="1.1"/>
<polygon points="70.04,520.78 75.8,517.9 75.8,523.66" fill="#fff" stroke="#a238ae" stroke-width="0.9"/>
<polygon points="133.11,480.23 138.87,477.35 138.87,483.11" fill="#fff" stroke="#a238ae" stroke-width="0.9"/>
<polygon points="164.64,466.46 170.4,463.58 170.4,469.34" fill="#fff" stroke="#a238ae" stroke-width="0.9"/>
<polygon points="227.71,443.17 233.47,440.29 233.47,446.05" fill="#fff" stroke="#a238ae" stroke-width="0.9"/>
<polygon points="290.78,423.65 296.54,420.77 296.54,426.53" fill="#fff" stroke="#a238ae" stroke-width="0.9"/>
<circle cx="73.24" cy="377.4" r="2.8" fill="#000"/>
<ellipse cx="72.63" cy="376.85" rx="1.4" ry="0.91" fill="url(#hl)"/>
<circle cx="136.31" cy="365.89" r="2.8" fill="#000"/>
<ellipse cx="135.7" cy="365.34" rx="1.4" ry="0.91" fill="url(#hl)"/>
<circle cx="167.84" cy="357.35" r="2.8" fill="#000"/>
<ellipse cx="167.23" cy="356.81" rx="1.4" ry="0.91" fill="url(#hl)"/>
<circle cx="230.91" cy="343.31" r="2.8" fill="#000"/>
<ellipse cx="230.3" cy="342.76" rx="1.4" ry="0.91" fill="url(#hl)"/>
<circle cx="293.98" cy="333.47" r="2.8" fill="#000"/>
<ellipse cx="293.37" cy="332.92" rx="1.4" ry="0.91" fill="url(#hl)"/>
<line x1="73.24" y1="379" x2="293.98" y2="332.47" stroke="#f7901c" stroke-width="1.1"/>
<circle cx="52.1" cy="311.1" r="2.8" fill="#000"/>
<ellipse cx="51.49" cy="310.55" rx="1.4" ry="0.91" fill="url(#hl)"/>
<line x1="43" y1="321.6" x2="61.3" y2="321.6" stroke="#f7901c" stroke-width="1.1" />
<line x1="43" y1="331.5" x2="61.3" y2="331.5" stroke="#a238ae" stroke-width="1.1" />
<polygon points="49,331.5 54.76,328.62 54.76,334.38" fill="#fff" stroke="#a238ae" stroke-width="0.9"/>
<text x="63.9" y="314" font-size="8.2" text-anchor="start" font-weight="normal" fill="#141414" >TF0.1&#8211;1</text>
<text x="63.9" y="324.5" font-size="8.2" text-anchor="start" font-weight="normal" fill="#141414" >Curvature effect</text>
<text x="63.9" y="334.4" font-size="8.2" text-anchor="start" font-weight="normal" fill="#141414" >No curvature effect</text>
<text x="341.5" y="289.7" font-size="10.8" text-anchor="start" font-weight="bold" fill="#000" >d</text>
<rect x="378.5" y="300.5" width="147.5" height="228" fill="url(#gdl)"/>
<rect x="526" y="300.5" width="6" height="228" fill="#d8dbd4"/>
<rect x="532" y="300.5" width="147.5" height="228" fill="url(#gdr)"/>
<line x1="378.5" y1="300.5" x2="526.3" y2="300.5" stroke="#6a6a6a" stroke-width="1.0" />
<line x1="531.6" y1="300.5" x2="679.5" y2="300.5" stroke="#6a6a6a" stroke-width="1.0" />
<line x1="679.5" y1="300.5" x2="679.5" y2="528.5" stroke="#444" stroke-width="1.05" />
<line x1="378.5" y1="528.5" x2="525.3" y2="528.5" stroke="#333" stroke-width="1.15" />
<line x1="532.6" y1="528.5" x2="679.5" y2="528.5" stroke="#333" stroke-width="1.15" />
<path d="M378.5,300.5 V326.5 M378.5,330.5 V373.5 M378.5,377.7 V528.5" fill="none" stroke="#2a2a2a" stroke-width="1.15"/>
<line x1="375.4" y1="328.45" x2="380.8" y2="324.55" stroke="#222" stroke-width="1.15" />
<line x1="375.4" y1="332.45" x2="380.8" y2="328.55" stroke="#222" stroke-width="1.15" />
<line x1="375.4" y1="375.45" x2="380.8" y2="371.55" stroke="#222" stroke-width="1.15" />
<line x1="375.4" y1="379.65" x2="380.8" y2="375.75" stroke="#222" stroke-width="1.15" />
<line x1="523.3" y1="531.6" x2="528.8" y2="526.3" stroke="#222" stroke-width="1.2" />
<line x1="529.1" y1="531.6" x2="534.6" y2="526.3" stroke="#222" stroke-width="1.2" />
<line x1="526.1" y1="300.9" x2="529" y2="298.1" stroke="#222" stroke-width="1.2" />
<line x1="531.5" y1="300.9" x2="534.4" y2="298.1" stroke="#222" stroke-width="1.2" />
<text x="379.1" y="539.6" font-size="8.2" text-anchor="middle" font-weight="normal" fill="#141414" >30</text>
<line x1="402.2" y1="528.5" x2="402.2" y2="525.9" stroke="#333" stroke-width="1.2" />
<text x="402.8" y="539.6" font-size="8.2" text-anchor="middle" font-weight="normal" fill="#141414" >32</text>
<line x1="425.9" y1="528.5" x2="425.9" y2="525.9" stroke="#333" stroke-width="1.2" />
<text x="426.5" y="539.6" font-size="8.2" text-anchor="middle" font-weight="normal" fill="#141414" >34</text>
<line x1="449.6" y1="528.5" x2="449.6" y2="525.9" stroke="#333" stroke-width="1.2" />
<text x="450.2" y="539.6" font-size="8.2" text-anchor="middle" font-weight="normal" fill="#141414" >36</text>
<line x1="473.3" y1="528.5" x2="473.3" y2="525.9" stroke="#333" stroke-width="1.2" />
<text x="473.9" y="539.6" font-size="8.2" text-anchor="middle" font-weight="normal" fill="#141414" >38</text>
<line x1="497" y1="528.5" x2="497" y2="525.9" stroke="#333" stroke-width="1.2" />
<text x="497.6" y="539.6" font-size="8.2" text-anchor="middle" font-weight="normal" fill="#141414" >40</text>
<line x1="520.7" y1="528.5" x2="520.7" y2="525.9" stroke="#333" stroke-width="1.2" />
<text x="521.3" y="539.6" font-size="8.2" text-anchor="middle" font-weight="normal" fill="#141414" >42</text>
<line x1="390.35" y1="528.5" x2="390.35" y2="527" stroke="#333" stroke-width="1.2" />
<line x1="414.05" y1="528.5" x2="414.05" y2="527" stroke="#333" stroke-width="1.2" />
<line x1="437.75" y1="528.5" x2="437.75" y2="527" stroke="#333" stroke-width="1.2" />
<line x1="461.45" y1="528.5" x2="461.45" y2="527" stroke="#333" stroke-width="1.2" />
<line x1="485.15" y1="528.5" x2="485.15" y2="527" stroke="#333" stroke-width="1.2" />
<line x1="508.85" y1="528.5" x2="508.85" y2="527" stroke="#333" stroke-width="1.2" />
<line x1="537.4" y1="528.5" x2="537.4" y2="525.9" stroke="#333" stroke-width="1.2" />
<text x="538.6" y="539.6" font-size="8.2" text-anchor="middle" font-weight="normal" fill="#141414" >68</text>
<line x1="561.08" y1="528.5" x2="561.08" y2="525.9" stroke="#333" stroke-width="1.2" />
<text x="562.28" y="539.6" font-size="8.2" text-anchor="middle" font-weight="normal" fill="#141414" >70</text>
<line x1="584.76" y1="528.5" x2="584.76" y2="525.9" stroke="#333" stroke-width="1.2" />
<text x="585.96" y="539.6" font-size="8.2" text-anchor="middle" font-weight="normal" fill="#141414" >72</text>
<line x1="608.44" y1="528.5" x2="608.44" y2="525.9" stroke="#333" stroke-width="1.2" />
<text x="609.64" y="539.6" font-size="8.2" text-anchor="middle" font-weight="normal" fill="#141414" >74</text>
<line x1="632.12" y1="528.5" x2="632.12" y2="525.9" stroke="#333" stroke-width="1.2" />
<text x="633.32" y="539.6" font-size="8.2" text-anchor="middle" font-weight="normal" fill="#141414" >76</text>
<line x1="655.8" y1="528.5" x2="655.8" y2="525.9" stroke="#333" stroke-width="1.2" />
<text x="657" y="539.6" font-size="8.2" text-anchor="middle" font-weight="normal" fill="#141414" >78</text>
<text x="680.68" y="539.6" font-size="8.2" text-anchor="middle" font-weight="normal" fill="#141414" >80</text>
<line x1="549.24" y1="528.5" x2="549.24" y2="527" stroke="#333" stroke-width="1.2" />
<line x1="572.92" y1="528.5" x2="572.92" y2="527" stroke="#333" stroke-width="1.2" />
<line x1="596.6" y1="528.5" x2="596.6" y2="527" stroke="#333" stroke-width="1.2" />
<line x1="620.28" y1="528.5" x2="620.28" y2="527" stroke="#333" stroke-width="1.2" />
<line x1="643.96" y1="528.5" x2="643.96" y2="527" stroke="#333" stroke-width="1.2" />
<line x1="667.64" y1="528.5" x2="667.64" y2="527" stroke="#333" stroke-width="1.2" />
<text x="373.7" y="530" font-size="8.2" text-anchor="end" font-weight="normal" fill="#141414" >0</text>
<line x1="378.5" y1="507" x2="381.1" y2="507" stroke="#333" stroke-width="1.2" />
<text x="375" y="508.15" font-size="8.2" text-anchor="end" font-weight="normal" fill="#141414" >10</text>
<line x1="378.5" y1="485.5" x2="381.1" y2="485.5" stroke="#333" stroke-width="1.2" />
<text x="375" y="486.65" font-size="8.2" text-anchor="end" font-weight="normal" fill="#141414" >20</text>
<line x1="378.5" y1="464" x2="381.1" y2="464" stroke="#333" stroke-width="1.2" />
<text x="375" y="465.15" font-size="8.2" text-anchor="end" font-weight="normal" fill="#141414" >30</text>
<line x1="378.5" y1="442.5" x2="381.1" y2="442.5" stroke="#333" stroke-width="1.2" />
<text x="375" y="443.65" font-size="8.2" text-anchor="end" font-weight="normal" fill="#141414" >40</text>
<line x1="378.5" y1="421" x2="381.1" y2="421" stroke="#333" stroke-width="1.2" />
<text x="375" y="422.15" font-size="8.2" text-anchor="end" font-weight="normal" fill="#141414" >50</text>
<line x1="378.5" y1="399.5" x2="381.1" y2="399.5" stroke="#333" stroke-width="1.2" />
<text x="375" y="400.65" font-size="8.2" text-anchor="end" font-weight="normal" fill="#141414" >60</text>
<line x1="378.5" y1="517.75" x2="380" y2="517.75" stroke="#333" stroke-width="1.2" />
<line x1="378.5" y1="496.25" x2="380" y2="496.25" stroke="#333" stroke-width="1.2" />
<line x1="378.5" y1="474.75" x2="380" y2="474.75" stroke="#333" stroke-width="1.2" />
<line x1="378.5" y1="453.25" x2="380" y2="453.25" stroke="#333" stroke-width="1.2" />
<line x1="378.5" y1="431.75" x2="380" y2="431.75" stroke="#333" stroke-width="1.2" />
<line x1="378.5" y1="410.25" x2="380" y2="410.25" stroke="#333" stroke-width="1.2" />
<line x1="378.5" y1="388.75" x2="380" y2="388.75" stroke="#333" stroke-width="1.2" />
<line x1="378.5" y1="352.2" x2="381.1" y2="352.2" stroke="#333" stroke-width="1.2" />
<text x="376.1" y="352.9" font-size="8.2" text-anchor="end" font-weight="normal" fill="#141414" >140</text>
<line x1="378.5" y1="341.4" x2="380" y2="341.4" stroke="#333" stroke-width="1.2" />
<line x1="378.5" y1="363" x2="380" y2="363" stroke="#333" stroke-width="1.2" />
<text x="375.9" y="306.1" font-size="8.2" text-anchor="end" font-weight="normal" fill="#141414" >200</text>
<text x="523.8" y="549.6" font-size="9.5" text-anchor="middle" font-weight="normal" fill="#141414" >Feed Salinity (g.L<tspan font-size="6" dy="-3.3">-1</tspan><tspan dy="3.3">)</tspan></text>
<text x="0" y="0" font-size="9.5" text-anchor="middle" font-weight="normal" fill="#141414" transform="translate(355.0,411.7) rotate(-90)">Specific Energy Consumption (kWh.m<tspan font-size="6" dy="-3.3">-3</tspan><tspan dy="3.3">)</tspan></text>
<text x="0" y="0" font-size="9.6" text-anchor="middle" font-weight="normal" fill="#141414" transform="translate(522.2,423.8) rotate(-90)">Conventional RO Limit</text>
<text x="415.7" y="335.6" font-size="9.5" text-anchor="start" font-weight="normal" fill="#141414" >Seawater</text>
<text x="594.4" y="419.8" font-size="9.5" text-anchor="start" font-weight="normal" fill="#141414" >Brine</text>
<polygon points="388.93,517.59 389.88,519.88 392.35,520.08 390.47,521.69 391.04,524.1 388.93,522.81 386.81,524.1 387.39,521.69 385.5,520.08 387.98,519.88" fill="#33d4ff" stroke="none" stroke-width="0" stroke-linejoin="round"/>
<polygon points="397.1,516.3 398.06,518.59 400.53,518.79 398.65,520.4 399.22,522.81 397.1,521.52 394.99,522.81 395.56,520.4 393.68,518.79 396.15,518.59" fill="#33d4ff" stroke="none" stroke-width="0" stroke-linejoin="round"/>
<polygon points="419.15,517.59 420.1,519.88 422.57,520.08 420.69,521.69 421.26,524.1 419.15,522.81 417.03,524.1 417.6,521.69 415.72,520.08 418.19,519.88" fill="#33d4ff" stroke="none" stroke-width="0" stroke-linejoin="round"/>
<polygon points="424.71,516.73 425.67,519.02 428.14,519.22 426.26,520.83 426.83,523.24 424.71,521.95 422.6,523.24 423.17,520.83 421.29,519.22 423.76,519.02" fill="#33d4ff" stroke="none" stroke-width="0" stroke-linejoin="round"/>
<polygon points="435.38,508.99 436.33,511.28 438.8,511.48 436.92,513.09 437.5,515.5 435.38,514.21 433.26,515.5 433.84,513.09 431.96,511.48 434.43,511.28" fill="#33d4ff" stroke="none" stroke-width="0" stroke-linejoin="round"/>
<polygon points="437.75,499.1 438.7,501.39 441.17,501.59 439.29,503.2 439.87,505.61 437.75,504.32 435.63,505.61 436.21,503.2 434.33,501.59 436.8,501.39" fill="#33d4ff" stroke="none" stroke-width="0" stroke-linejoin="round"/>
<polygon points="440.12,516.08 441.07,518.37 443.54,518.57 441.66,520.19 442.24,522.6 440.12,521.3 438,522.6 438.58,520.19 436.7,518.57 439.17,518.37" fill="#33d4ff" stroke="none" stroke-width="0" stroke-linejoin="round"/>
<polygon points="442.49,511.57 443.44,513.86 445.91,514.06 444.03,515.67 444.61,518.08 442.49,516.79 440.37,518.08 440.95,515.67 439.07,514.06 441.54,513.86" fill="#33d4ff" stroke="none" stroke-width="0" stroke-linejoin="round"/>
<polygon points="447.23,515.01 448.18,517.3 450.65,517.5 448.77,519.11 449.35,521.52 447.23,520.23 445.11,521.52 445.69,519.11 443.81,517.5 446.28,517.3" fill="#33d4ff" stroke="none" stroke-width="0" stroke-linejoin="round"/>
<polygon points="454.34,511.36 455.29,513.64 457.76,513.84 455.88,515.46 456.46,517.87 454.34,516.58 452.22,517.87 452.8,515.46 450.92,513.84 453.39,513.64" fill="#33d4ff" stroke="none" stroke-width="0" stroke-linejoin="round"/>
<polygon points="454.34,516.08 455.29,518.37 457.76,518.57 455.88,520.19 456.46,522.6 454.34,521.3 452.22,522.6 452.8,520.19 450.92,518.57 453.39,518.37" fill="#33d4ff" stroke="none" stroke-width="0" stroke-linejoin="round"/>
<polygon points="455.52,513.5 456.48,515.79 458.95,515.99 457.07,517.61 457.64,520.02 455.52,518.73 453.41,520.02 453.98,517.61 452.1,515.99 454.57,515.79" fill="#33d4ff" stroke="none" stroke-width="0" stroke-linejoin="round"/>
<polygon points="462.63,517.59 463.59,519.88 466.06,520.08 464.18,521.69 464.75,524.1 462.63,522.81 460.52,524.1 461.09,521.69 459.21,520.08 461.68,519.88" fill="#33d4ff" stroke="none" stroke-width="0" stroke-linejoin="round"/>
<polygon points="470.93,516.51 471.88,518.8 474.35,519 472.47,520.62 473.05,523.03 470.93,521.74 468.81,523.03 469.39,520.62 467.51,519 469.98,518.8" fill="#33d4ff" stroke="none" stroke-width="0" stroke-linejoin="round"/>
<polygon points="479.23,514.58 480.18,516.87 482.65,517.07 480.77,518.68 481.34,521.09 479.23,519.8 477.11,521.09 477.68,518.68 475.8,517.07 478.27,516.87" fill="#33d4ff" stroke="none" stroke-width="0" stroke-linejoin="round"/>
<polygon points="483.96,516.51 484.92,518.8 487.39,519 485.51,520.62 486.08,523.03 483.96,521.74 481.85,523.03 482.42,520.62 480.54,519 483.01,518.8" fill="#33d4ff" stroke="none" stroke-width="0" stroke-linejoin="round"/>
<polygon points="488.7,515.44 489.66,517.73 492.13,517.93 490.25,519.54 490.82,521.95 488.7,520.66 486.59,521.95 487.16,519.54 485.28,517.93 487.75,517.73" fill="#33d4ff" stroke="none" stroke-width="0" stroke-linejoin="round"/>
<polygon points="491.07,517.16 492.03,519.45 494.5,519.65 492.62,521.26 493.19,523.67 491.07,522.38 488.96,523.67 489.53,521.26 487.65,519.65 490.12,519.45" fill="#33d4ff" stroke="none" stroke-width="0" stroke-linejoin="round"/>
<polygon points="492.26,515.01 493.21,517.3 495.68,517.5 493.8,519.11 494.38,521.52 492.26,520.23 490.14,521.52 490.72,519.11 488.84,517.5 491.31,517.3" fill="#33d4ff" stroke="none" stroke-width="0" stroke-linejoin="round"/>
<polygon points="493.45,516.3 494.4,518.59 496.87,518.79 494.99,520.4 495.56,522.81 493.45,521.52 491.33,522.81 491.9,520.4 490.02,518.79 492.49,518.59" fill="#33d4ff" stroke="none" stroke-width="0" stroke-linejoin="round"/>
<polygon points="504.11,516.51 505.06,518.8 507.53,519 505.65,520.62 506.23,523.03 504.11,521.74 501.99,523.03 502.57,520.62 500.69,519 503.16,518.8" fill="#33d4ff" stroke="none" stroke-width="0" stroke-linejoin="round"/>
<polygon points="507.66,515.44 508.62,517.73 511.09,517.93 509.21,519.54 509.78,521.95 507.66,520.66 505.55,521.95 506.12,519.54 504.24,517.93 506.71,517.73" fill="#33d4ff" stroke="none" stroke-width="0" stroke-linejoin="round"/>
<polygon points="518.33,511.36 519.28,513.64 521.75,513.84 519.87,515.46 520.45,517.87 518.33,516.58 516.21,517.87 516.79,515.46 514.91,513.84 517.38,513.64" fill="#33d4ff" stroke="none" stroke-width="0" stroke-linejoin="round"/>
<polygon points="438.94,498.67 439.89,500.96 442.36,501.16 440.48,502.77 441.05,505.18 438.94,503.89 436.82,505.18 437.39,502.77 435.51,501.16 437.98,500.96" fill="#33d4ff" stroke="none" stroke-width="0" stroke-linejoin="round"/>
<circle cx="448.89" cy="474.75" r="2.6" fill="#2cb9ff" stroke="none" stroke-width="0"/>
<rect x="449.19" y="473.32" width="0.91" height="2.86" fill="#fff"/>
<circle cx="445.1" cy="482.7" r="2.6" fill="#2cb9ff" stroke="none" stroke-width="0"/>
<rect x="445.4" y="481.27" width="0.91" height="2.86" fill="#fff"/>
<circle cx="443.2" cy="496.47" r="2.6" fill="#2cb9ff" stroke="none" stroke-width="0"/>
<rect x="443.5" y="495.04" width="0.91" height="2.86" fill="#fff"/>
<circle cx="440.95" cy="502.49" r="2.6" fill="#2cb9ff" stroke="none" stroke-width="0"/>
<rect x="441.25" y="501.06" width="0.91" height="2.86" fill="#fff"/>
<circle cx="436.8" cy="520.33" r="2.6" fill="#2cb9ff" stroke="none" stroke-width="0"/>
<rect x="437.1" y="518.9" width="0.91" height="2.86" fill="#fff"/>
<rect x="443" y="467.57" width="4.9" height="4.9" fill="#000"/>
<rect x="446.2" y="468.62" width="0.9" height="2.8" fill="#fff"/>
<rect x="440.75" y="472.3" width="4.9" height="4.9" fill="#000"/>
<rect x="443.95" y="473.35" width="0.9" height="2.8" fill="#fff"/>
<rect x="438.26" y="483.91" width="4.9" height="4.9" fill="#000"/>
<rect x="441.46" y="484.96" width="0.9" height="2.8" fill="#fff"/>
<rect x="435.77" y="491.87" width="4.9" height="4.9" fill="#000"/>
<rect x="438.97" y="492.92" width="0.9" height="2.8" fill="#fff"/>
<rect x="434.47" y="504.76" width="4.9" height="4.9" fill="#000"/>
<rect x="437.67" y="505.81" width="0.9" height="2.8" fill="#fff"/>
<rect x="447.15" y="425" width="4.9" height="4.9" fill="#000"/>
<rect x="450.35" y="426.05" width="0.9" height="2.8" fill="#fff"/>
<rect x="449.28" y="401.35" width="4.9" height="4.9" fill="#000"/>
<rect x="452.48" y="402.4" width="0.9" height="2.8" fill="#fff"/>
<polygon points="434.75,513.24 440,510.38 440,516.09" fill="#ff4508" stroke="#ff4508" stroke-width="0.5" stroke-linejoin="round"/>
<ellipse cx="438.15" cy="513.74" rx="0.5" ry="0.7" fill="#ffb090"/>
<polygon points="433.56,515.17 438.81,512.32 438.81,518.02" fill="#ff4508" stroke="#ff4508" stroke-width="0.5" stroke-linejoin="round"/>
<ellipse cx="436.96" cy="515.67" rx="0.5" ry="0.7" fill="#ffb090"/>
<polygon points="433.09,517.11 438.34,514.25 438.34,519.96" fill="#ff4508" stroke="#ff4508" stroke-width="0.5" stroke-linejoin="round"/>
<ellipse cx="436.49" cy="517.61" rx="0.5" ry="0.7" fill="#ffb090"/>
<circle cx="436.8" cy="388.97" r="2.4" fill="none" stroke="#a03080" stroke-width="1.05"/>
<circle cx="445.7" cy="351.9" r="2.4" fill="none" stroke="#a03080" stroke-width="1.05"/>
<polygon points="561.08,445.55 561.98,447.71 564.31,447.9 562.54,449.42 563.08,451.7 561.08,450.48 559.08,451.7 559.62,449.42 557.85,447.9 560.18,447.71" fill="#fff" stroke="#1eb4ff" stroke-width="0.9" stroke-linejoin="round"/>
<circle cx="436.8" cy="524.85" r="2.7" fill="url(#sphp)"/>
<circle cx="561.08" cy="523.34" r="2.7" fill="url(#sphp)"/>
<circle cx="496.76" cy="521.84" r="2.9" fill="#ff7c0a" stroke="none" stroke-width="0"/>
<circle cx="620.28" cy="519.68" r="2.9" fill="#ff7c0a" stroke="none" stroke-width="0"/>
<rect x="540.95" y="308.95" width="4.9" height="4.9" fill="#000"/>
<rect x="544.15" y="310" width="0.9" height="2.8" fill="#fff"/>
<circle cx="543.4" cy="320.8" r="2.4" fill="#2cb9ff" stroke="none" stroke-width="0"/>
<rect x="543.7" y="319.48" width="0.84" height="2.64" fill="#fff"/>
<polygon points="543.4,327.6 544.25,329.64 546.44,329.81 544.77,331.24 545.28,333.39 543.4,332.24 541.52,333.39 542.03,331.24 540.36,329.81 542.55,329.64" fill="#fff" stroke="#1eb4ff" stroke-width="0.9" stroke-linejoin="round"/>
<polygon points="543.4,337.7 544.19,339.61 546.25,339.77 544.68,341.12 545.16,343.13 543.4,342.05 541.64,343.13 542.12,341.12 540.55,339.77 542.61,339.61" fill="#33d4ff" stroke="none" stroke-width="0" stroke-linejoin="round"/>
<polygon points="540.6,350.8 545.5,348.14 545.5,353.46" fill="#ff4508" stroke="#ff4508" stroke-width="0.5" stroke-linejoin="round"/>
<ellipse cx="543.8" cy="351.3" rx="0.5" ry="0.7" fill="#ffb090"/>
<circle cx="543.4" cy="360.6" r="2.4" fill="none" stroke="#a03080" stroke-width="1.05"/>
<circle cx="543.4" cy="370.5" r="2.7" fill="url(#sphp)"/>
<circle cx="543.4" cy="380.6" r="2.9" fill="#ff7c0a" stroke="none" stroke-width="0"/>
<text x="554.8" y="314" font-size="7.5" text-anchor="start" font-weight="normal" fill="#141414" >MSF</text>
<text x="554.8" y="323.4" font-size="7.5" text-anchor="start" font-weight="normal" fill="#141414" >MED</text>
<text x="554.8" y="333.4" font-size="7.5" text-anchor="start" font-weight="normal" fill="#141414" >MVC</text>
<text x="554.8" y="343.3" font-size="7.5" text-anchor="start" font-weight="normal" fill="#141414" >SWRO</text>
<text x="554.8" y="353.4" font-size="7.5" text-anchor="start" font-weight="normal" fill="#141414" >ED</text>
<text x="554.8" y="363.2" font-size="7.5" text-anchor="start" font-weight="normal" fill="#141414" >MD</text>
<text x="554.8" y="373.1" font-size="7.5" text-anchor="start" font-weight="normal" fill="#141414" >This work - NaCl</text>
<text x="554.8" y="383.2" font-size="7.5" text-anchor="start" font-weight="normal" fill="#141414" >This work - real SW &amp; Brine</text>
</g></svg>
</body></html>
